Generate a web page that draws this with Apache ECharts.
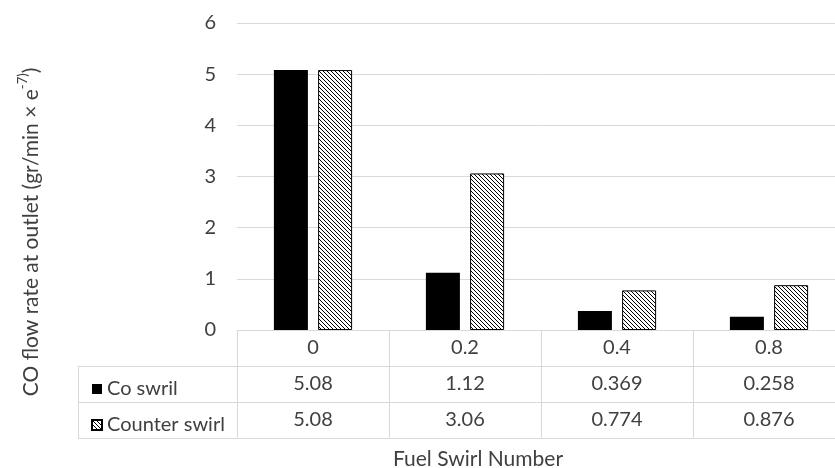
<!DOCTYPE html>
<html><head><meta charset="utf-8">
<script src="https://cdn.jsdelivr.net/npm/echarts@6/dist/echarts.min.js"></script>
<style>html,body{margin:0;padding:0;background:#fff}#c{width:835px;height:468px}</style>
</head><body><div id="c"></div>
<script>
const categories = ['0', '0.2', '0.4', '0.8'];
const coSwirl = [5.08, 1.12, 0.369, 0.258];
const counterSwirl = [5.08, 3.06, 0.774, 0.876];
const seriesNames = ['Co swril', 'Counter swirl'];
const yTickLabels = ['0', '1', '2', '3', '4', '5', '6'];
const xTitle = 'Fuel Swirl Number';
const yTitleMain = 'CO flow rate at outlet (gr/min × e';
const yTitleSup = '-7)';
const yTitleEnd = ')';

const FONT = 'Lato';
const FS = 20;
const TFS = 21;
const TXT = '#404040';
const LINE = '#d9d9d9';
const gridLeft = 237, gridTop = 23, gridBottom = 138, gridRight = -10;
const rowH = 36;
const tableLeft = 78;
const H = 468;
const axisY = H - gridBottom;

function hatch() {
  const c = document.createElement('canvas');
  c.width = 4; c.height = 4;
  const g = c.getContext('2d');
  g.fillStyle = '#fff'; g.fillRect(0, 0, 4, 4);
  g.fillStyle = '#000';
  for (let i = 0; i < 4; i++) g.fillRect(i, i, 1, 1);
  return c;
}

const chart = echarts.init(document.getElementById('c'), null, {renderer: 'canvas'});

function rowAxis(values, offset, showLabel) {
  return {
    type: 'category', gridIndex: 0, position: 'bottom', offset: offset,
    data: values.map(String),
    axisLine: {show: true, lineStyle: {color: LINE, width: 1}},
    axisTick: {show: false},
    axisLabel: {show: showLabel, margin: 8, fontFamily: FONT, fontSize: FS, color: TXT},
    splitLine: {show: false}
  };
}

const tableLines = [];
for (let r = 1; r <= 3; r++) {
  tableLines.push({type: 'line', shape: {x1: tableLeft, y1: axisY + r * rowH + 0.5, x2: gridLeft, y2: axisY + r * rowH + 0.5},
    style: {stroke: LINE, lineWidth: 1}, silent: true});
}
tableLines.push({type: 'line', shape: {x1: tableLeft + 0.5, y1: axisY + rowH, x2: tableLeft + 0.5, y2: axisY + 3 * rowH},
  style: {stroke: LINE, lineWidth: 1}, silent: true});

chart.setOption({
  animation: false,
  backgroundColor: '#fff',
  grid: {left: gridLeft, top: gridTop, right: gridRight, bottom: gridBottom, containLabel: false, outerBoundsMode: 'none'},
  legend: {
    orient: 'vertical', left: tableLeft + 8, top: axisY + rowH + 6,
    itemWidth: 10, itemHeight: 10, itemGap: 12,
    icon: 'rect',
    textStyle: {fontFamily: FONT, fontSize: FS, color: TXT, lineHeight: 24},
    data: seriesNames
  },
  xAxis: [
    {
      type: 'category', data: categories, position: 'bottom',
      axisLine: {show: true, lineStyle: {color: LINE, width: 1}},
      axisTick: {show: true, length: 3 * rowH, lineStyle: {color: LINE, width: 1}},
      axisLabel: {margin: 8, fontFamily: FONT, fontSize: FS, color: TXT},
      splitLine: {show: false}
    },
    rowAxis(coSwirl, rowH, true),
    rowAxis(counterSwirl, 2 * rowH, true),
    rowAxis(categories, 3 * rowH, false)
  ],
  yAxis: {
    type: 'value', min: 0, max: 6, interval: 1,
    axisLine: {show: false}, axisTick: {show: false},
    axisLabel: {margin: 21, fontFamily: FONT, fontSize: FS, color: TXT,
      formatter: (v) => yTickLabels[Math.round(v)]},
    splitLine: {lineStyle: {color: LINE, width: 1}}
  },
  series: [
    {name: seriesNames[0], type: 'bar', xAxisIndex: 0, data: coSwirl, barWidth: 34, barGap: '30%',
      itemStyle: {color: '#000'}},
    {name: seriesNames[1], type: 'bar', xAxisIndex: 0, data: counterSwirl, barWidth: 34, barGap: '30%',
      itemStyle: {color: {image: hatch(), repeat: 'repeat'}, borderColor: '#000', borderWidth: 1}}
  ],
  graphic: tableLines.concat([
    {type: 'text', x: 29, y: 232, rotation: Math.PI / 2,
      style: {text: '{a|' + yTitleMain + '}{s|' + yTitleSup + '}{a|' + yTitleEnd + '}',
        align: 'center', verticalAlign: 'middle',
        rich: {a: {fontFamily: FONT, fontSize: TFS, fill: TXT, lineHeight: 26, verticalAlign: 'bottom'},
               s: {fontFamily: FONT, fontSize: 13, fill: TXT, lineHeight: 26, verticalAlign: 'top'}}}},
    {type: 'text', x: 478, y: 459,
      style: {text: xTitle, fontFamily: FONT, fontSize: TFS, fill: TXT, align: 'center', verticalAlign: 'middle'}}
  ])
});
</script>
</body></html>
